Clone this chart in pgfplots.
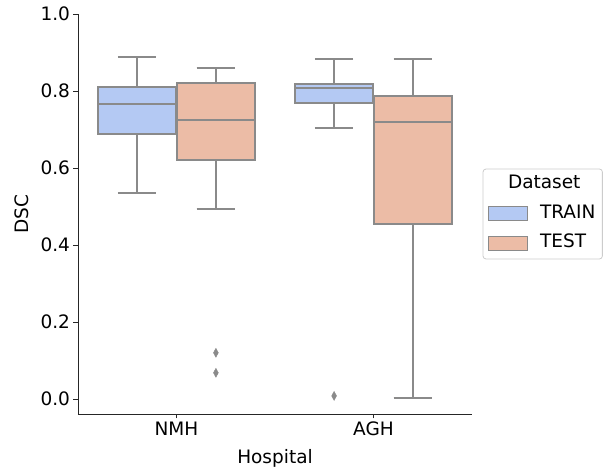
\documentclass[border=0pt]{standalone}
\usepackage{fontspec}
\setmainfont{DejaVu Sans}
\usepackage{pgfplots}
\pgfplotsset{compat=1.18}
\usepgfplotslibrary{statistics}
\definecolor{edgegray}{RGB}{138,138,138}
\definecolor{trainblue}{RGB}{180,201,243}
\definecolor{testorange}{RGB}{236,188,166}
\newcommand{\fsz}{\fontsize{18.5}{22}\selectfont}
\pgfplotsset{
  boxst/.style={draw=edgegray, line width=2pt, mark=diamond*, mark size=4.5pt,
    mark options={fill=edgegray, draw=edgegray, xscale=0.72, line width=0.4pt, solid}, forget plot},
  patchlegend/.style={legend image code/.code={\draw[##1, line width=1pt, sharp corners] (0pt,-7pt) rectangle (39pt,7pt);}},
}
\begin{document}
\begin{tikzpicture}
\begin{axis}[
  scale only axis, width=394pt, height=400pt,
  xmin=-0.5, xmax=1.5, ymin=-0.039, ymax=1.0,
  axis lines*=left, axis line style={-, black!85, line width=0.8pt},
  tick align=outside, major tick length=4.5pt,
  tick style={black!85, line width=0.8pt},
  xtick={0,1}, xticklabels={NMH,AGH},
  ytick={0,0.2,0.4,0.6,0.8,1.0},
  yticklabel style={/pgf/number format/.cd, fixed, fixed zerofill, precision=1, assume math mode=true},
  tick label style={font=\fsz},
  xlabel={Hospital}, ylabel={DSC},
  every axis x label/.style={at={(axis description cs:0.5,0)}, yshift=-44pt, anchor=center, font=\fsz},
  every axis y label/.style={at={(axis description cs:0,0.5)}, xshift=-56pt, rotate=90, anchor=center, font=\fsz},
  boxplot/draw direction=y,
  legend cell align=left,
  legend style={at={(1.027,0.5)}, anchor=west, font=\fsz, draw=black!20, rounded corners=3pt,
    line width=0.8pt, inner xsep=5pt, inner ysep=5pt, row sep=8.5pt, column sep=0pt,
    nodes={inner sep=2pt, text height=13pt, text depth=4pt}},
]
% NMH TRAIN
\addplot[boxst, fill=trainblue, boxplot prepared={lower whisker=0.536, lower quartile=0.688, median=0.766, upper quartile=0.810, upper whisker=0.889, draw position=-0.2, box extend=0.392, whisker extend=0.196}] coordinates {};
% NMH TEST
\addplot[boxst, fill=testorange, boxplot prepared={lower whisker=0.494, lower quartile=0.621, median=0.725, upper quartile=0.822, upper whisker=0.861, draw position=0.2, box extend=0.392, whisker extend=0.196}] table[row sep=\\, y index=0] {0.120\\ 0.068\\};
% AGH TRAIN
\addplot[boxst, fill=trainblue, boxplot prepared={lower whisker=0.705, lower quartile=0.770, median=0.809, upper quartile=0.817, upper whisker=0.882, draw position=0.8, box extend=0.392, whisker extend=0.196}] table[row sep=\\, y index=0] {0.008\\};
% AGH TEST
\addplot[boxst, fill=testorange, boxplot prepared={lower whisker=0.003, lower quartile=0.455, median=0.719, upper quartile=0.786, upper whisker=0.882, draw position=1.2, box extend=0.392, whisker extend=0.196}] coordinates {};
\addlegendimage{empty legend}
\addlegendentry{\hspace*{-22pt}Dataset}
\addlegendimage{patchlegend, draw=edgegray, fill=trainblue}
\addlegendentry{\hspace*{10pt}TRAIN}
\addlegendimage{patchlegend, draw=edgegray, fill=testorange}
\addlegendentry{\hspace*{10pt}TEST}
\end{axis}
\pgfresetboundingbox
\path[use as bounding box] (-78pt,-59pt) rectangle (527pt,414pt);
\end{tikzpicture}
\end{document}
